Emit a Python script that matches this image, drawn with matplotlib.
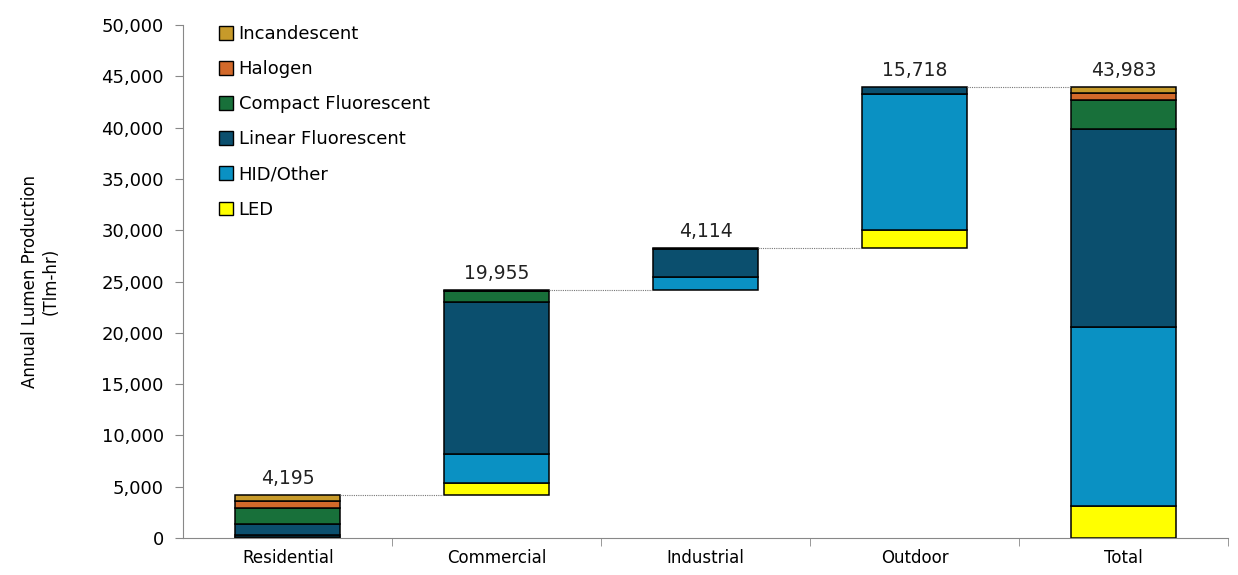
import numpy as np
import matplotlib
matplotlib.use("Agg")
import matplotlib.pyplot as plt
from matplotlib.patches import Patch

# Datos por sector (Tlm-hr)
sectores = ["Residential", "Commercial", "Industrial", "Outdoor"]
tipos = ["LED", "HID/Other", "Linear Fluorescent", "Compact Fluorescent", "Halogen", "Incandescent"]
led = [120, 1216, 0, 1750]
hid = [140, 2780, 1300, 13240]
linear = [1080, 14800, 2750, 728]
cfl = [1600, 1100, 64, 0]
halogeno = [655, 30, 0, 0]
incand = [600, 29, 0, 0]
etiquetas = ["4,195", "19,955", "4,114", "15,718", "43,983"]
categorias = sectores + ["Total"]

colores = ["#FFFF00", "#0A91C3", "#0B4F6E", "#18703A", "#D2692A", "#C79A2A"]

series = np.array([led, hid, linear, cfl, halogeno, incand], dtype=float)
totales_sector = series.sum(axis=0)
# base de cada barra de cascada
base = np.concatenate([[0], np.cumsum(totales_sector)[:-1]])
series_total = series.sum(axis=1)

fig = plt.figure(figsize=(12.38, 5.75), dpi=100)
ax = fig.add_axes([0.148, 0.0643, 0.844, 0.8922])

x = np.arange(len(categorias))
ancho = 0.5
for i in range(len(categorias)):
    abajo = base[i] if i < len(sectores) else 0.0
    valores = series[:, i] if i < len(sectores) else series_total
    for v, c in zip(valores, colores):
        if v <= 0:
            continue
        ax.bar(x[i], v, ancho, bottom=abajo, color=c, edgecolor="black", linewidth=1.1)
        abajo += v
    ax.text(x[i], abajo + 700, etiquetas[i], ha="center", va="bottom", fontsize=13.5, color="#222222")

# lineas punteadas entre barras
cima = np.cumsum(totales_sector)
for i in range(len(sectores)):
    ax.plot([x[i] + ancho / 2, x[i + 1] - ancho / 2], [cima[i], cima[i]],
            color="#777777", linestyle=(0, (1, 1)), linewidth=0.8)

ax.set_xlim(-0.5, 4.5)
ax.set_ylim(0, 50000)
ax.set_yticks(np.arange(0, 50001, 5000))
ax.set_yticklabels([f"{v:,}" for v in range(0, 50001, 5000)], fontsize=13)
ax.set_xticks(x)
ax.set_xticklabels(categorias, fontsize=12)
ax.set_xticks(np.arange(0.5, 4.6, 1.0), minor=True)
ax.tick_params(axis="x", which="major", length=0, pad=8)
ax.tick_params(axis="x", which="minor", length=6, color="#888888")
ax.tick_params(axis="y", length=6, color="#888888", pad=8)
for s in ["top", "right"]:
    ax.spines[s].set_visible(False)
ax.spines["left"].set_color("#888888")
ax.spines["bottom"].set_color("#888888")
ax.set_ylabel("Annual Lumen Production\n(Tlm-hr)", fontsize=12, labelpad=30)

manejadores = [Patch(facecolor=c, edgecolor="black", label=t) for t, c in zip(tipos, colores)][::-1]
ax.legend(handles=manejadores, loc="upper left", bbox_to_anchor=(0.034, 1.0), frameon=False,
          fontsize=13, handlelength=0.8, handleheight=0.8, handletextpad=0.3,
          labelspacing=0.95, borderpad=0, borderaxespad=0)

fig.savefig("out.png", dpi=100)
